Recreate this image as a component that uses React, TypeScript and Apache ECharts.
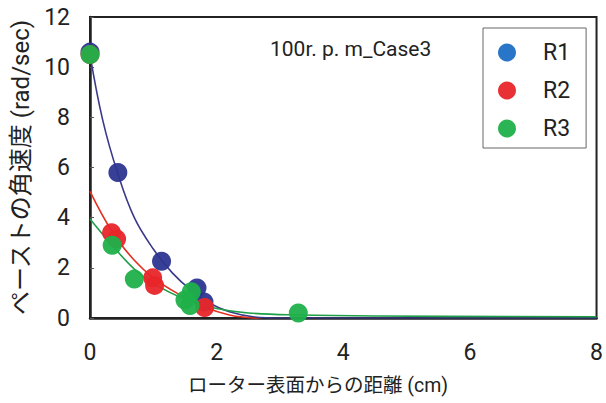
import React, { useEffect, useRef } from "react";
import * as echarts from "echarts";

const xTicks = [0, 2, 4, 6, 8];
const yTicks = [0, 2, 4, 6, 8, 10, 12];

const r1Points = [[0, 10.6], [0.44, 5.8], [1.13, 2.26], [1.69, 1.2], [1.8, 0.64]];
const r2Points = [[0, 10.5], [0.34, 3.4], [0.42, 3.15], [0.99, 1.6], [1.02, 1.3], [1.81, 0.42]];
const r3Points = [[0, 10.5], [0.35, 2.9], [0.7, 1.55], [1.6, 1.05], [1.5, 0.72], [1.58, 0.5], [3.29, 0.2]];

const r1Curve = [[0, 10.5], [0.2, 7.9], [0.44, 5.75], [0.7, 4.0], [1.0, 2.75], [1.3, 1.8], [1.6, 1.1], [1.9, 0.58], [2.2, 0.25], [2.6, 0.04], [3.0, 0.0], [8, 0.0]];
const r2Curve = [[0, 5.05], [0.36, 3.4], [0.7, 2.3], [1.0, 1.6], [1.4, 0.95], [1.8, 0.45], [2.2, 0.12], [2.55, 0.0], [2.8, -0.1]];
const r3Curve = [[0, 3.95], [0.35, 2.9], [0.7, 1.95], [1.0, 1.38], [1.5, 0.75], [2.0, 0.38], [2.5, 0.2], [3.3, 0.12], [4.5, 0.08], [8, 0.05]];

const seriesNames = ["R1", "R2", "R3"];
const pointColors = ["#2c3590", "#e8262a", "#1fb04a"];
const legendColors = ["#1e6fc5", "#e8262a", "#1fb04a"];
const lineColors = ["#3b3a8a", "#e4301f", "#1f9e48"];

const xTitle = "ローター表面からの距離 (cm)";
const yTitle = "ペーストの角速度 (rad/sec)";
const caseLabel = "100r. p. m_Case3";

const FONT = "Roboto, 'Noto Sans CJK JP', sans-serif";

export default function App() {
  const ref = useRef<HTMLDivElement>(null);
  useEffect(() => {
    if (!ref.current) return;
    const chart = echarts.init(ref.current, undefined, { renderer: "svg" });
    const curves = [r1Curve, r2Curve, r3Curve];
    const points = [r1Points, r2Points, r3Points];
    const lineSeries = curves.map((c, i) => ({
      type: "line",
      name: seriesNames[i] + "_fit",
      data: c,
      smooth: 0.4,
      showSymbol: false,
      symbol: "none",
      clip: true,
      lineStyle: { color: lineColors[i], width: 1.6 },
      z: 2,
      silent: true,
    }));
    const scatterSeries = points.map((p, i) => ({
      type: "scatter",
      name: seriesNames[i],
      data: p,
      symbol: "circle",
      symbolSize: 19,
      itemStyle: { color: pointColors[i], opacity: 0.95 },
      z: 3 + i,
    }));
    chart.setOption({
      animation: false,
      backgroundColor: "#ffffff",
      grid: {
        left: 90,
        right: 6,
        top: 17,
        bottom: 85,
        show: true,
        borderColor: "#222",
        borderWidth: 2,
        backgroundColor: "transparent",
      },
      xAxis: {
        type: "value",
        min: 0,
        max: 8,
        interval: 2,
        axisLine: { show: true, lineStyle: { color: "#222", width: 2.5 } },
        axisTick: { show: false },
        splitLine: { show: false },
        axisLabel: {
          fontFamily: FONT,
          fontSize: 23,
          color: "#222",
          margin: 23,
          formatter: (v: number) => (xTicks.includes(v) ? String(v) : ""),
        },
      },
      yAxis: {
        type: "value",
        min: 0,
        max: 12,
        interval: 2,
        name: yTitle,
        nameLocation: "middle",
        nameRotate: 90,
        nameGap: 47,
        nameTextStyle: { fontFamily: FONT, fontSize: 24, color: "#222" },
        axisLine: { show: true, lineStyle: { color: "#222", width: 2.5 } },
        axisTick: { show: true, inside: true, length: 4, lineStyle: { color: "#555", width: 1 } },
        splitLine: { show: false },
        axisLabel: {
          fontFamily: FONT,
          fontSize: 23,
          color: "#222",
          margin: 20,
          formatter: (v: number) => (yTicks.includes(v) ? String(v) : ""),
        },
      },
      legend: {
        data: seriesNames.map((n, i) => ({ name: n, itemStyle: { color: legendColors[i] } })),
        orient: "vertical",
        left: 483,
        top: 28,
        icon: "circle",
        itemWidth: 18,
        itemHeight: 18,
        itemGap: 15,
        padding: [13, 16, 8, 15],
        borderColor: "#666",
        borderWidth: 1,
        backgroundColor: "#fff",
        textStyle: { fontFamily: FONT, fontSize: 23, color: "#222", padding: [0, 0, 0, 22] },
        selectedMode: false,
      },
      graphic: [
        {
          type: "text",
          left: 270,
          top: 38,
          style: { text: caseLabel, font: `21px ${FONT}`, fill: "#222" },
        },
        {
          type: "text",
          left: 188,
          top: 376,
          style: { text: xTitle, font: `19.5px ${FONT}`, fill: "#222" },
        },
      ],
      series: [...lineSeries, ...scatterSeries],
    });
    return () => chart.dispose();
  }, []);
  return <div ref={ref} style={{ width: 606, height: 403, position: "absolute", left: 0, top: 0 }} />;
}
